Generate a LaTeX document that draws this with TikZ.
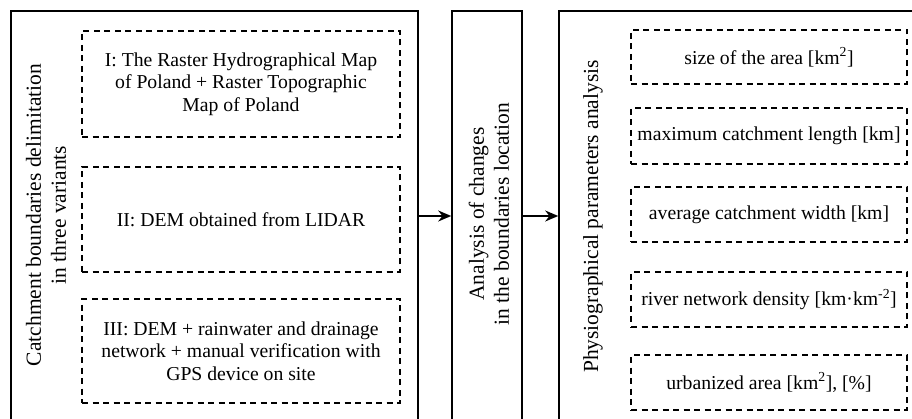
\documentclass[tikz,border=0pt]{standalone}
\usepackage{fontspec}
\setmainfont{Liberation Serif}
\usetikzlibrary{arrows.meta}
\tikzset{
  x=1pt,y=-1pt,
  bigbox/.style={draw,line width=1.6pt,minimum height=429pt,inner sep=0pt},
  dbox/.style={draw,dashed,line width=1.5pt,dash pattern=on 6pt off 4.5pt,inner sep=0pt,align=center,font=\fontsize{19.7}{22.7}\selectfont},
  vlabel/.style={rotate=90,align=center,font=\fontsize{21.5}{25}\selectfont},
  flow/.style={line width=1.6pt,-{Stealth[length=13pt,width=11pt]}}
}
\begin{document}
\begin{tikzpicture}
\useasboundingbox (0,0) rectangle (912,419);
\fill[white] (0,0) rectangle (912,419);
\node[bigbox,minimum width=407pt] (left) at (214.5,225.5) {};
\node[bigbox,minimum width=70pt] (mid) at (487,225.5) {};
\node[bigbox,minimum width=376pt] (right) at (747,225.5) {};

\node[vlabel] (lt) at (46,215) {Catchment boundaries delimitation\\in three variants};
\node[vlabel] (mt) at (489,214) {Analysis of changes\\in the boundaries location};
\node[vlabel] (rt) at (593,216.5) {Physiographical parameters analysis};

\node[dbox,minimum width=318pt,minimum height=106pt] (v1) at (241,84) {I: The Raster Hydrographical Map\\of Poland + Raster Topographic\\Map of Poland};
\node[dbox,minimum width=318pt,minimum height=105pt] (v2) at (241,219.5) {II: DEM obtained from LIDAR};
\node[dbox,minimum width=318pt,minimum height=104pt] (v3) at (241,351) {III: DEM + rainwater and drainage\\network + manual verification with\\GPS device on site};

\node[dbox,minimum width=276pt,minimum height=54pt] (p1) at (769,57) {size of the area [km\textsuperscript{2}]};
\node[dbox,minimum width=276pt,minimum height=56pt] (p2) at (769,136) {maximum catchment length [km]};
\node[dbox,minimum width=276pt,minimum height=55pt] (p3) at (769,214.5) {average catchment width [km]};
\node[dbox,minimum width=276pt,minimum height=55pt] (p4) at (769,299.5) {river network density [km·km\textsuperscript{-2}]};
\node[dbox,minimum width=276pt,minimum height=55pt] (p5) at (769,382.5) {urbanized area [km\textsuperscript{2}], [\%]};

\coordinate (ay) at (0,216);
\draw[flow] (left.east |- ay) -- (mid.west |- ay);
\draw[flow] (mid.east |- ay) -- (right.west |- ay);
\end{tikzpicture}
\end{document}
